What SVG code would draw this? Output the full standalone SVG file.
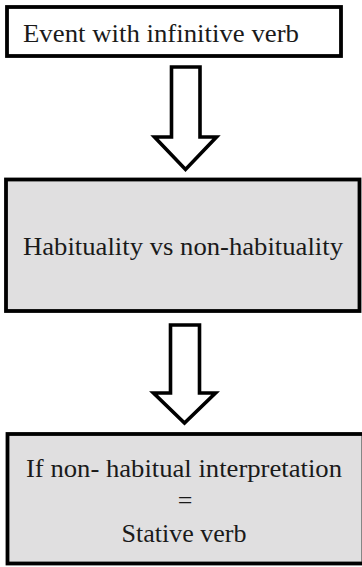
<svg xmlns="http://www.w3.org/2000/svg" width="362" height="567" viewBox="0 0 362 567">
<style>
.box{stroke:#000;stroke-width:3.8}
.plain{fill:#fff}
.grey{fill:#e0dfe0}
text{font-family:'Liberation Serif','DejaVu Serif','Times New Roman',serif;font-size:26px;fill:#1a1a1a}
.arrow{fill:#fff;stroke:#000;stroke-width:3.6;stroke-linejoin:miter}
</style>
<rect width="362" height="567" fill="#fff"/>
<g id="node-event">
<rect class="box plain" x="7" y="7" width="334" height="49"/>
<text x="23" y="41.5" textLength="276" lengthAdjust="spacingAndGlyphs" font-family="Liberation Serif, serif">Event with infinitive verb</text>
</g>
<g id="node-habituality">
<rect class="box grey" x="6" y="179.5" width="353.5" height="131.5"/>
<text x="183" y="255" text-anchor="middle" textLength="320" lengthAdjust="spacingAndGlyphs" font-family="Liberation Serif, serif">Habituality vs non-habituality</text>
</g>
<g id="node-stative">
<rect class="box grey" x="7.5" y="434" width="356" height="129.5"/>
<text x="184" y="476.5" text-anchor="middle" textLength="316" lengthAdjust="spacingAndGlyphs" font-family="Liberation Serif, serif">If non- habitual interpretation</text>
<text x="185" y="509" text-anchor="middle" font-family="Liberation Serif, serif">=</text>
<text x="184" y="541.5" text-anchor="middle" textLength="125" lengthAdjust="spacingAndGlyphs" font-family="Liberation Serif, serif">Stative verb</text>
</g>
<g id="connectors">
<path class="arrow" d="M171.5,67 H200 V137 H216.5 L185.5,169.5 L154.5,137 H171.5 Z"/>
<path class="arrow" d="M170.5,325 H199.5 V393 H215.5 L184.5,423 L153.5,393 H170.5 Z"/>
</g>
</svg>
